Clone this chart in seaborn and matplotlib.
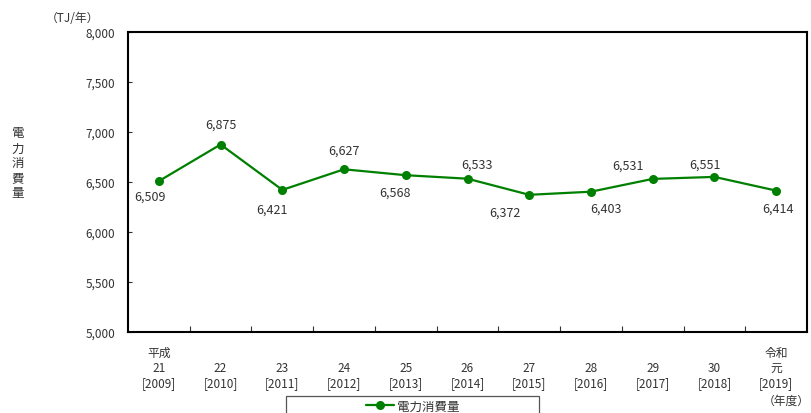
import numpy as np
import pandas as pd
import matplotlib
matplotlib.use("Agg")
import matplotlib.pyplot as plt
from matplotlib.patches import Rectangle
import seaborn as sns

# data
years = ["平成\n21\n[2009]", "22\n[2010]", "23\n[2011]", "24\n[2012]", "25\n[2013]",
         "26\n[2014]", "27\n[2015]", "28\n[2016]", "29\n[2017]", "30\n[2018]", "令和\n元\n[2019]"]
consumption = [6509, 6875, 6421, 6627, 6568, 6533, 6372, 6403, 6531, 6551, 6414]
# data label offsets (pixels) relative to each point
label_dx = [-9, 0, -10, 0, -11, 10, -24, 15, -25, -9, 2]
label_dy = [-15, 20, -19, 19, -17, 15, -17, -16, 14, 13, -18]

sns.set_theme(style="white")
plt.rcParams['font.family'] = ['Noto Sans CJK JP', 'DejaVu Sans']

df = pd.DataFrame({"year": range(len(years)), "value": consumption})

fig = plt.figure(figsize=(8.12, 4.14), dpi=100)
ax = fig.add_axes([128 / 812, 1 - 333 / 414, (807 - 128) / 812, 300 / 414])

green = "#008000"
txt = "#333333"
sns.lineplot(data=df, x="year", y="value", ax=ax, color=green, marker="o",
             markersize=6.5, markeredgewidth=0, linewidth=1.6, label="電力消費量")

for i, v in enumerate(consumption):
    ax.annotate(f"{v:,}", (i, v), xytext=(label_dx[i], label_dy[i]), textcoords="offset pixels",
                ha="center", va="center", fontsize=9, color=txt)

ax.set_xlim(-0.5, len(years) - 0.5)
ax.set_ylim(5000, 8000)
ax.set_yticks(np.arange(5000, 8001, 500))
ax.set_yticklabels([f"{t:,}" for t in range(5000, 8001, 500)], fontsize=8.5, color=txt)
ax.set_xticks(range(len(years)))
ax.set_xticklabels(years, fontsize=8.5, color=txt, va="bottom", linespacing=1.2)
ax.tick_params(axis="x", length=0, pad=41)
ax.tick_params(axis="y", direction="in", length=3, width=0.8, color="#333333", left=True, pad=9)
# small inward boundary ticks between categories
ax.set_xticks(np.arange(0.5, len(years) - 1, 1), minor=True)
ax.tick_params(axis="x", which="minor", direction="in", length=4, width=0.8, color="#333333", bottom=True)
for s in ax.spines.values():
    s.set_color("black")
    s.set_linewidth(1.5)
ax.set_xlabel("")
ax.set_ylabel("")

fig.text(72 / 812, 1 - 19 / 414, "（TJ/年）", fontsize=8.5, ha="center", va="center", color=txt)
fig.text(18 / 812, 1 - 164 / 414, "電\n力\n消\n費\n量", fontsize=9, ha="center", va="center",
         linespacing=1.2, color=txt)
fig.text(810 / 812, 1 - 401 / 414, "（年度）", fontsize=8.5, ha="right", va="center", color=txt)

# legend box, open at the bottom edge of the image
fig.patches.append(Rectangle((286 / 812, -0.05), (539 - 286) / 812, 0.05 + (414 - 397) / 414,
                             transform=fig.transFigure, fill=False, edgecolor="#555555",
                             linewidth=0.9))
leg = ax.legend(loc="center", bbox_to_anchor=(413 / 812, 1 - 407 / 414),
                bbox_transform=fig.transFigure, frameon=False, fontsize=9,
                handlelength=2.2, handletextpad=0.3, borderpad=0)
for t in leg.get_texts():
    t.set_color(txt)

fig.savefig("out.png", dpi=100)
